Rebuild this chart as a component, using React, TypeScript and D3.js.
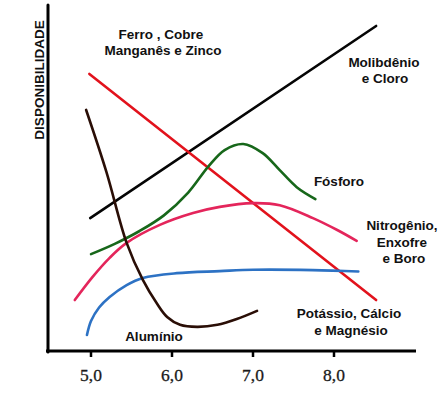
import React from 'react';
import * as d3 from 'd3';

// pH ticks
const tickValues = [5, 6, 7, 8];
const tickLabels = ['5,0', '6,0', '7,0', '8,0'];

// each series: [pH, availability 0-100]
const molibdenio: [number, number][] = [[4.99, 38.8], [8.52, 95.3]];
const ferro: [number, number][] = [[4.98, 81.2], [8.52, 14.7]];
const aluminio: [number, number][] = [
  [4.94, 70.6], [5.19, 52.4], [5.44, 31.5], [5.64, 20.6], [5.81, 13.8],
  [5.94, 9.7], [6.1, 7.4], [6.31, 6.8], [6.56, 7.4], [6.8, 9.1], [7.05, 11.5],
];
const fosforo: [number, number][] = [
  [5.0, 28.2], [5.3, 31.3], [5.6, 35.0], [5.9, 39.6], [6.2, 46.3],
  [6.45, 54.0], [6.65, 58.8], [6.88, 60.6], [7.12, 57.9], [7.33, 52.9],
  [7.54, 47.9], [7.77, 44.4],
];
const nitrogenio: [number, number][] = [
  [4.8, 14.7], [5.02, 21.5], [5.23, 27.1], [5.44, 31.5], [5.85, 36.8],
  [6.26, 40.3], [6.59, 42.1], [7.0, 43.2], [7.33, 42.6], [7.74, 38.8],
  [8.04, 35.3], [8.28, 32.1],
];
const potassio: [number, number][] = [
  [4.95, 4.4], [5.0, 8.5], [5.1, 12.5], [5.23, 15.6], [5.44, 19.1],
  [5.64, 21.2], [6.06, 22.6], [6.59, 23.2], [7.0, 23.6], [7.74, 23.5],
  [8.3, 23.1],
];

const W = 445;
const H = 395;

export default function App() {
  const x = d3.scaleLinear().domain([5, 8]).range([91, 334]);
  const y = d3.scaleLinear().domain([0, 100]).range([350, 10]);

  const line = d3
    .line<[number, number]>()
    .x(d => x(d[0]))
    .y(d => y(d[1]))
    .curve(d3.curveCatmullRom.alpha(0.5));

  const series = [
    { data: molibdenio, color: '#050505' },
    { data: ferro, color: '#e2121c' },
    { data: fosforo, color: '#17671a' },
    { data: nitrogenio, color: '#e4255b' },
    { data: potassio, color: '#2d72c4' },
    { data: aluminio, color: '#2a0e06' },
  ];

  const lbl = {
    fontFamily: '"Liberation Sans", Arial, sans-serif',
    fontWeight: 700,
    fontSize: 13.5,
    fill: '#111',
    textAnchor: 'middle' as const,
  };

  return (
    <svg
      width={W}
      height={H}
      style={{ position: 'absolute', left: 0, top: 0, background: '#fff' }}
    >
      {/* axes */}
      <line x1={48} y1={5} x2={48} y2={352} stroke="#000" strokeWidth={3} strokeLinecap="round" />
      <line x1={46} y1={351} x2={416} y2={351} stroke="#000" strokeWidth={3} />
      {tickValues.map((t, i) => (
        <g key={t} transform={`translate(${x(t)},0)`}>
          <line y1={351} y2={357} stroke="#000" strokeWidth={2.5} />
          <text
            y={381}
            textAnchor="middle"
            fontFamily='"Liberation Serif", "Times New Roman", serif'
            fontSize={17.5}
            fill="#1a1a1a"
            stroke="#1a1a1a"
            strokeWidth={0.3}
          >
            {tickLabels[i]}
          </text>
        </g>
      ))}
      <text
        transform="translate(44,80) rotate(-90)"
        textAnchor="middle"
        fontFamily='"Liberation Sans", Arial, sans-serif'
        fontWeight={700}
        fontSize={13.5}
        fill="#111"
      >
        DISPONIBILIDADE
      </text>

      {/* curves */}
      {series.map((s, i) => (
        <path
          key={i}
          d={line(s.data) || ''}
          fill="none"
          stroke={s.color}
          strokeWidth={2.6}
          strokeLinecap="round"
        />
      ))}

      {/* labels */}
      <text {...lbl} x={161} y={39}>Ferro , Cobre</text>
      <text {...lbl} x={163} y={55}>Manganês e Zinco</text>
      <text {...lbl} x={384} y={67}>Molibdênio</text>
      <text {...lbl} x={385} y={83}>e Cloro</text>
      <text {...lbl} x={339} y={186}>Fósforo</text>
      <text {...lbl} x={402} y={230}>Nitrogênio,</text>
      <text {...lbl} x={402} y={247}>Enxofre</text>
      <text {...lbl} x={404} y={263}>e Boro</text>
      <text {...lbl} x={349} y={318}>Potássio, Cálcio</text>
      <text {...lbl} x={351} y={335}>e Magnésio</text>
      <text {...lbl} x={154} y={341}>Alumínio</text>
    </svg>
  );
}
